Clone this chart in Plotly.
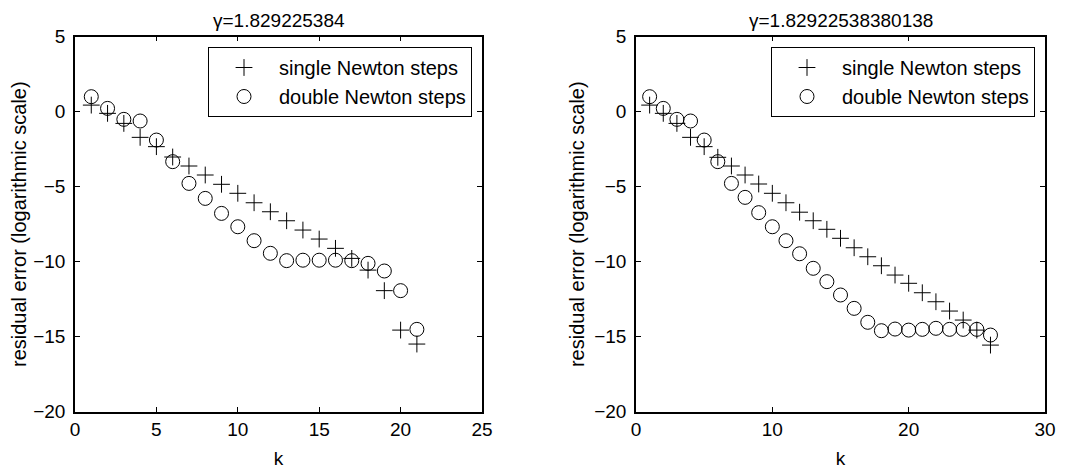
import plotly.graph_objects as go

# ---- data ----
k_left = list(range(1, 22))
single_left = [0.44, -0.11, -0.78, -1.71, -2.33, -3.02, -3.62, -4.22, -4.84, -5.44,
               -6.07, -6.67, -7.27, -7.89, -8.49, -9.11, -9.78, -10.56, -11.93, -14.56, -15.49]
double_left = [1.0, 0.22, -0.51, -0.62, -1.89, -3.33, -4.78, -5.78, -6.78, -7.67,
               -8.6, -9.44, -9.93, -9.9, -9.9, -9.9, -9.93, -10.11, -10.62, -11.93, -14.51]

k_right = list(range(1, 27))
single_right = [0.44, -0.11, -0.78, -1.71, -2.33, -3.04, -3.62, -4.22, -4.82, -5.44,
                -6.07, -6.7, -7.27, -7.84, -8.44, -9.07, -9.67, -10.27, -10.89, -11.44,
                -12.07, -12.67, -13.29, -13.89, -14.56, -15.56]
double_right = [1.0, 0.22, -0.51, -0.62, -1.89, -3.33, -4.78, -5.71, -6.73, -7.67,
                -8.6, -9.47, -10.44, -11.33, -12.22, -13.11, -14.04, -14.6, -14.49, -14.56,
                -14.51, -14.44, -14.51, -14.51, -14.51, -14.89]

title_left = "γ=1.829225384"
title_right = "γ=1.82922538380138"
name_single = "single Newton steps"
name_double = "double Newton steps"
xlabel = "k"
ylabel = "residual error (logarithmic scale)"

FONT = "Liberation Sans, Arial, sans-serif"

# the page has an 8px body margin; figure is sized to fit the 1068x472 window
OFF = 8
W, H = 1068 - OFF, 472 - OFF


def px(x):
    return (x - OFF) / W


def py(y):
    return 1 - (y - OFF) / H


fig = go.Figure()

plus_marker = dict(symbol="cross-thin", size=12, color="black", line=dict(color="black", width=1))
circ_marker = dict(symbol="circle-open", size=14, color="black", line=dict(color="black", width=1))

fig.add_trace(go.Scatter(x=k_left, y=single_left, mode="markers", name=name_single,
                         marker=plus_marker, xaxis="x", yaxis="y", legend="legend"))
fig.add_trace(go.Scatter(x=k_left, y=double_left, mode="markers", name=name_double,
                         marker=circ_marker, xaxis="x", yaxis="y", legend="legend"))
fig.add_trace(go.Scatter(x=k_right, y=single_right, mode="markers", name=name_single,
                         marker=plus_marker, xaxis="x2", yaxis="y2", legend="legend2"))
fig.add_trace(go.Scatter(x=k_right, y=double_right, mode="markers", name=name_double,
                         marker=circ_marker, xaxis="x2", yaxis="y2", legend="legend2"))

ydom = [py(411.7), py(36.7)]
xdom1 = [px(75), px(482)]
xdom2 = [px(636), px(1045)]

axis_common = dict(showline=True, linecolor="black", linewidth=1.5, mirror="allticks",
                   ticks="inside", ticklen=5, tickcolor="black", showgrid=False,
                   zeroline=False, automargin=False,
                   tickfont=dict(size=19, color="black", family=FONT))

legend_common = dict(xanchor="right", yanchor="top", bordercolor="black", borderwidth=1,
                     bgcolor="white", font=dict(size=20, family=FONT), tracegroupgap=0,
                     itemwidth=60)

fig.update_layout(
    template="none",
    width=W, height=H,
    margin=dict(l=0, r=0, t=0, b=0),
    paper_bgcolor="white", plot_bgcolor="white",
    font=dict(family=FONT, color="black"),
    xaxis=dict(domain=xdom1, range=[0, 25], dtick=5, anchor="y",
               title=dict(text=xlabel, font=dict(size=19), standoff=12), **axis_common),
    yaxis=dict(domain=ydom, range=[-20, 5], dtick=5, anchor="x", ticklabelstandoff=4,
               title=dict(text=ylabel, font=dict(size=20), standoff=4), **axis_common),
    xaxis2=dict(domain=xdom2, range=[0, 30], dtick=10, anchor="y2",
                title=dict(text=xlabel, font=dict(size=19), standoff=12), **axis_common),
    yaxis2=dict(domain=ydom, range=[-20, 5], dtick=5, anchor="x2", ticklabelstandoff=4,
                title=dict(text=ylabel, font=dict(size=20), standoff=4), **axis_common),
    legend=dict(x=px(472), y=py(47), **legend_common),
    legend2=dict(x=px(1035), y=py(47), **legend_common),
    annotations=[
        dict(text=title_left, x=(xdom1[0] + xdom1[1]) / 2, y=1, xref="paper", yref="paper",
             showarrow=False, font=dict(size=19, family=FONT), xanchor="center", yanchor="top"),
        dict(text=title_right, x=(xdom2[0] + xdom2[1]) / 2, y=1, xref="paper", yref="paper",
             showarrow=False, font=dict(size=19, family=FONT), xanchor="center", yanchor="top"),
    ],
)

fig.write_html("out.html")
